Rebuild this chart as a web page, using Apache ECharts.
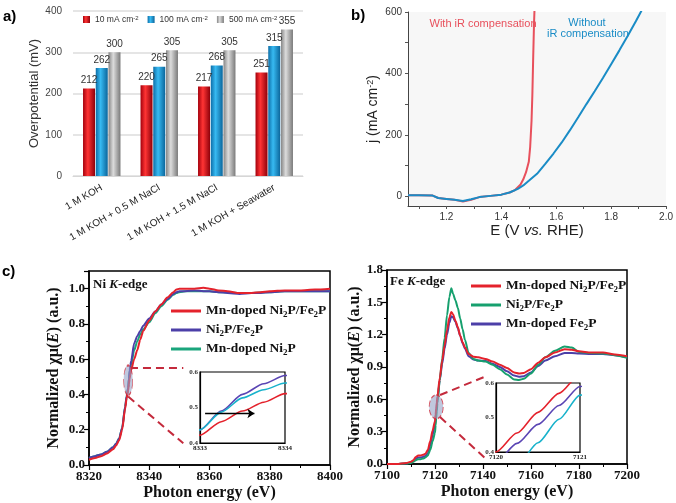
<!DOCTYPE html>
<html><head><meta charset="utf-8">
<script src="https://cdn.jsdelivr.net/npm/echarts@6/dist/echarts.min.js"></script>
<style>html,body{margin:0;padding:0;background:#fff}#c{width:676px;height:503px}</style>
</head><body><div id="c"></div><script>
// ---------- Panel a ----------
const aCategories = ['1 M KOH', '1 M KOH + 0.5 M NaCl', '1 M KOH + 1.5 M NaCl', '1 M KOH + Seawater'];
const a10 = [212, 220, 217, 251];
const a100 = [262, 265, 268, 315];
const a500 = [300, 305, 305, 355];

// ---------- Panel b ----------
const bRedE = [1.06,1.10,1.15,1.17,1.20,1.23,1.26,1.29,1.32,1.36,1.40,1.43,1.45,1.47,1.48,1.49,1.50,1.505,1.51,1.513,1.516,1.519,1.522];
const bRedJ = [3,3,2,-6,-9,-12,-17,-12,-3,1,5,12,20,38,55,78,112,160,245,330,450,560,640];
const bBlueE = [1.06,1.10,1.15,1.17,1.20,1.23,1.26,1.29,1.32,1.36,1.40,1.43,1.46,1.48,1.50,1.53,1.56,1.59,1.62,1.65,1.68,1.71,1.74,1.77,1.80,1.83,1.86,1.89,1.92,1.94];
const bBlueJ = [3,3,2,-6,-9,-12,-16,-10,-3,1,5,12,24,35,50,73,105,139,175,215,257,300,342,385,430,475,522,570,620,655];
const bLabelE = [1.2, 1.4, 1.6, 1.8, 2.0];
const bTickE = [1.1,1.2,1.3,1.4,1.5,1.6,1.7,1.8,1.9,2.0];
const bLabelJ = [0, 200, 400, 600];
const bTickJ = [0, 100, 200, 300, 400, 500, 600];

// ---------- Panel c, Ni K-edge ----------
const niE = [8320,8322,8324,8326,8328,8329,8330,8331,8332,8332.5,8333,8333.25,8333.5,8333.75,8334,8335,8336,8337,8338,8340,8342,8344,8346,8348,8349,8350,8352,8355,8358,8360,8363,8366,8370,8374,8377,8380,8385,8390,8395,8400];
const niRed = [0.03,0.04,0.05,0.065,0.09,0.11,0.14,0.2,0.32,0.38,0.422,0.46,0.49,0.515,0.539,0.6,0.65,0.71,0.76,0.82,0.87,0.91,0.95,0.98,0.995,1.0,1.0,1.0,1.005,1.0,0.99,0.985,0.975,0.975,0.98,0.985,0.99,0.99,0.995,1.0];
const niPurple = [0.04,0.05,0.06,0.075,0.1,0.12,0.15,0.21,0.33,0.39,0.437,0.49,0.537,0.567,0.59,0.69,0.73,0.76,0.79,0.83,0.87,0.91,0.94,0.97,0.98,0.985,0.985,0.99,0.985,0.985,0.98,0.975,0.97,0.975,0.975,0.98,0.985,0.985,0.985,0.985];
const niGreen = [0.04,0.05,0.06,0.075,0.1,0.12,0.15,0.21,0.33,0.39,0.437,0.487,0.527,0.55,0.569,0.65,0.7,0.74,0.77,0.81,0.86,0.9,0.935,0.965,0.975,0.98,0.985,0.985,0.985,0.985,0.98,0.978,0.975,0.975,0.978,0.98,0.985,0.985,0.985,0.985];
const niArrow = [[8333.06, 0.483], [8333.64, 0.483]];
const niLens = [[8333, 0.48]];
const niConnectors = [[[8333.6, 0.553], [8351.3, 0.553]], [[8333.0, 0.388], [8351.3, 0.123]]];

// ---------- Panel c, Fe K-edge ----------
const feE = [7100,7104,7108,7110,7111,7112,7113,7114,7115,7116,7117,7118,7119,7120,7120.25,7120.5,7120.75,7121,7122,7123,7124,7125,7126,7126.8,7127.5,7128.5,7129.5,7130.5,7131.5,7132.5,7134,7136,7138,7141,7144,7147,7150,7153,7155,7157,7160,7163,7166,7170,7174,7177,7180,7185,7190,7195,7200];
const feRed = [0.0,0.0,0.01,0.02,0.035,0.065,0.08,0.08,0.085,0.095,0.13,0.21,0.31,0.40,0.455,0.515,0.57,0.625,0.8,0.96,1.1,1.24,1.36,1.41,1.39,1.33,1.27,1.19,1.13,1.08,1.02,0.995,0.99,0.975,0.95,0.92,0.89,0.85,0.84,0.845,0.88,0.94,0.99,1.035,1.065,1.06,1.045,1.035,1.035,1.015,1.0];
const fePurple = [0.0,0.0,0.005,0.015,0.03,0.05,0.06,0.06,0.065,0.075,0.1,0.17,0.27,0.37,0.425,0.48,0.535,0.59,0.78,0.93,1.07,1.2,1.31,1.37,1.36,1.32,1.26,1.19,1.12,1.07,1.0,0.97,0.96,0.955,0.93,0.9,0.86,0.82,0.81,0.815,0.85,0.91,0.96,1.0,1.03,1.03,1.025,1.02,1.02,1.01,0.99];
const feGreen = [0.0,0.0,0.005,0.01,0.02,0.035,0.045,0.045,0.05,0.06,0.08,0.13,0.21,0.29,0.36,0.427,0.495,0.565,0.78,0.98,1.17,1.38,1.55,1.63,1.58,1.52,1.45,1.35,1.25,1.15,1.03,0.975,0.96,0.95,0.92,0.88,0.83,0.785,0.78,0.79,0.84,0.92,0.99,1.05,1.09,1.08,1.04,1.03,1.025,1.01,0.985];
const feLens = [[7120.5, 0.53]];
const feConnectors = [[[7122.1, 0.64], [7140.8, 0.81]], [[7122.1, 0.436], [7140.8, 0.056]]];

const SANS = 'Liberation Sans, Arial, sans-serif';
const SERIF = 'Liberation Serif, Times New Roman, serif';
const zip = (xs, ys) => xs.map((x, i) => [x, ys[i]]);
const grad = (c0, c1, c2) => new echarts.graphic.LinearGradient(0, 0, 1, 0, [
  {offset: 0, color: c0}, {offset: 0.4, color: c1}, {offset: 1, color: c2}]);

const chart = echarts.init(document.getElementById('c'), null, {renderer: 'canvas'});

const legendLabels = {
  a10: '{t|10 mA cm}{s|-2}', a100: '{t|100 mA cm}{s|-2}', a500: '{t|500 mA cm}{s|-2}',
  c1r: '{t|Mn-doped Ni}{b|2}{t|P/Fe}{b|2}{t|P}', c1p: '{t|Ni}{b|2}{t|P/Fe}{b|2}{t|P}', c1g: '{t|Mn-doped Ni}{b|2}{t|P}',
  c2r: '{t|Mn-doped Ni}{b|2}{t|P/Fe}{b|2}{t|P}', c2g: '{t|Ni}{b|2}{t|P/Fe}{b|2}{t|P}', c2p: '{t|Mn-doped Fe}{b|2}{t|P}'
};
const legFmt = n => legendLabels[n];
const richA = {t: {fontSize: 8.5, fontFamily: SANS, color: '#333'}, s: {fontSize: 6, fontFamily: SANS, color: '#333', verticalAlign: 'top', lineHeight: 6}};
const richC = {t: {fontSize: 13.5, fontWeight: 'bold', fontFamily: SERIF, color: '#111', lineHeight: 16},
  b: {fontSize: 9, fontWeight: 'bold', fontFamily: SERIF, color: '#111', verticalAlign: 'bottom', lineHeight: 9}};

const cAxisX = (gi, min, max) => ({
  gridIndex: gi, type: 'value', min: min, max: max, interval: 20,
  axisLine: {show: true, onZero: false, lineStyle: {color: '#000', width: 1.5}},
  axisTick: {show: true, length: 5, lineStyle: {color: '#000', width: 1.2}},
  minorTick: {show: true, splitNumber: 2, length: 3, lineStyle: {color: '#000', width: 1}},
  splitLine: {show: false},
  axisLabel: {fontSize: 13, fontWeight: 'bold', fontFamily: SERIF, color: '#111', margin: 5, formatter: v => String(v)},
  name: 'Photon energy (eV)', nameLocation: 'middle', nameGap: 20,
  nameTextStyle: {fontSize: 16, fontWeight: 'bold', fontFamily: SERIF, color: '#111'}
});
const cAxisY = (gi, max, interval, gap) => ({
  gridIndex: gi, type: 'value', min: 0, max: max, interval: interval,
  axisLine: {show: true, onZero: false, lineStyle: {color: '#000', width: 1.5}},
  axisTick: {show: true, length: 5, lineStyle: {color: '#000', width: 1.2}},
  minorTick: {show: true, splitNumber: 2, length: 3, lineStyle: {color: '#000', width: 1}},
  splitLine: {show: false},
  axisLabel: {fontSize: 13, fontWeight: 'bold', fontFamily: SERIF, color: '#111', margin: 4,
    formatter: v => (Math.abs(v / interval - Math.round(v / interval)) > 1e-6) ? '' : v.toFixed(1)},
  name: '{n|Normalized χμ(}{i|E}{n|) (a.u.)}', nameLocation: 'middle', nameGap: gap,
  nameTextStyle: {rich: {
    n: {fontSize: 16, fontWeight: 'bold', fontFamily: SERIF, color: '#111'},
    i: {fontSize: 16, fontWeight: 'bold', fontStyle: 'italic', fontFamily: SERIF, color: '#111'}}}
});
const insetX = (gi, min, max) => ({
  gridIndex: gi, type: 'value', min: min, max: max,
  axisLine: {show: true, onZero: false, lineStyle: {color: '#000', width: 1.2}},
  axisTick: {show: false}, splitLine: {show: false},
  axisLabel: {customValues: [min, max], fontSize: 7, fontWeight: 'bold', fontFamily: SERIF, color: '#222', margin: 2, formatter: v => String(v)}
});
const insetY = (gi) => ({
  gridIndex: gi, type: 'value', min: 0.4, max: 0.6, interval: 0.1,
  axisLine: {show: true, onZero: false, lineStyle: {color: '#000', width: 1.2}},
  axisTick: {show: false}, splitLine: {show: false},
  axisLabel: {fontSize: 7, fontWeight: 'bold', fontFamily: SERIF, color: '#333', margin: 2, formatter: v => v.toFixed(1)}
});

const line = (name, xi, xs, ys, color, w, z, smooth) => ({
  name: name, type: 'line', xAxisIndex: xi, yAxisIndex: xi, data: zip(xs, ys),
  symbol: 'none', smooth: smooth === undefined ? 0.25 : smooth, smoothMonotone: 'x', clip: true,
  lineStyle: {color: color, width: w}, itemStyle: {color: color}, z: z || 2
});
const lens = (xi, data, size) => ({
  type: 'scatter', xAxisIndex: xi, yAxisIndex: xi, data: data, symbol: 'circle', symbolSize: size,
  itemStyle: {color: 'rgba(150,163,200,0.75)', borderColor: '#d02a3a', borderWidth: 1.2, borderType: 'dashed'}, z: 6, silent: true
});
const connectors = (xi, pairs) => ({
  type: 'lines', coordinateSystem: 'cartesian2d', xAxisIndex: xi, yAxisIndex: xi,
  data: pairs.map(p => ({coords: p})), symbol: 'none',
  lineStyle: {color: '#c42a3c', width: 2, type: [8, 5], opacity: 1}, z: 5, silent: true
});
const barLabel = {show: true, position: 'top', distance: 3, fontSize: 10, color: '#333', fontFamily: SANS};

const option = {
  animation: false,
  backgroundColor: '#fff',
  grid: [
    {left: 73, top: 11, width: 230, height: 165},
    {left: 408, top: 12, width: 260, height: 194, show: true, backgroundColor: '#f7f7f7', borderWidth: 0},
    {left: 89, top: 271, width: 241, height: 194, show: true, borderColor: '#000', borderWidth: 1.5, backgroundColor: 'transparent'},
    {left: 200, top: 372, width: 85, height: 71, show: true, borderColor: '#000', borderWidth: 1.2, backgroundColor: '#fff'},
    {left: 387, top: 270, width: 240, height: 194, show: true, borderColor: '#000', borderWidth: 1.5, backgroundColor: 'transparent'},
    {left: 496, top: 383, width: 84, height: 69, show: true, borderColor: '#000', borderWidth: 1.2, backgroundColor: '#fff'}
  ],
  legend: [
    {data: ['a10', 'a100', 'a500'], left: 78, top: 10, itemWidth: 7, itemHeight: 7, itemGap: 9, icon: 'rect',
      formatter: legFmt, textStyle: {rich: richA}, selectedMode: false},
    {data: ['c1r', 'c1p', 'c1g'], orient: 'vertical', left: 166, top: 299, itemWidth: 30, itemHeight: 3, itemGap: 4,
      icon: 'rect', formatter: legFmt, textStyle: {rich: richC}, selectedMode: false},
    {data: ['c2r', 'c2g', 'c2p'], orient: 'vertical', left: 466, top: 274, itemWidth: 30, itemHeight: 3, itemGap: 4,
      icon: 'rect', formatter: legFmt, textStyle: {rich: richC}, selectedMode: false}
  ],
  xAxis: [
    {gridIndex: 0, type: 'category', data: aCategories,
      axisLine: {show: true, lineStyle: {color: '#d6d6d6'}}, axisTick: {show: false},
      axisLabel: {rotate: 30, interval: 0, fontSize: 10, color: '#222', fontFamily: SANS, margin: 11}},
    {gridIndex: 1, type: 'value', min: 1.06, max: 2.0,
      axisLine: {show: true, onZero: false, lineStyle: {color: '#444', width: 1}},
      axisTick: {show: true, customValues: bTickE, length: 3, lineStyle: {color: '#555'}},
      axisLabel: {customValues: bLabelE, formatter: v => v.toFixed(1), fontSize: 10, color: '#333', fontFamily: SANS, margin: 6},
      splitLine: {show: false},
      name: 'E (V {i|vs.} RHE)', nameLocation: 'middle', nameGap: 17,
      nameTextStyle: {fontSize: 15, color: '#222', fontFamily: SANS,
        rich: {i: {fontSize: 15, fontStyle: 'italic', color: '#222', fontFamily: SANS}}}},
    cAxisX(2, 8320, 8400),
    insetX(3, 8333, 8334),
    cAxisX(4, 7100, 7200),
    insetX(5, 7120, 7121)
  ],
  yAxis: [
    {gridIndex: 0, type: 'value', min: 0, max: 400, interval: 100,
      axisLine: {show: false}, axisTick: {show: false},
      splitLine: {show: true, lineStyle: {color: '#dcdcdc', width: 1.5}},
      axisLabel: {fontSize: 10, color: '#444', fontFamily: SANS, margin: 11},
      name: 'Overpotential (mV)', nameLocation: 'middle', nameGap: 25,
      nameTextStyle: {fontSize: 13, color: '#333', fontFamily: SANS}},
    {gridIndex: 1, type: 'value', min: -32, max: 600,
      axisLine: {show: true, onZero: false, lineStyle: {color: '#444', width: 1}},
      axisTick: {show: true, customValues: bTickJ, length: 3, lineStyle: {color: '#555'}},
      axisLabel: {customValues: bLabelJ, fontSize: 10, color: '#333', fontFamily: SANS, margin: 6},
      splitLine: {show: false},
      name: 'j (mA cm{s|-2})', nameLocation: 'middle', nameGap: 28,
      nameTextStyle: {fontSize: 14, color: '#222', fontFamily: SANS,
        rich: {s: {fontSize: 9, color: '#222', fontFamily: SANS, verticalAlign: 'top', lineHeight: 8}}}},
    cAxisY(2, 1.1, 0.2, 27),
    insetY(3),
    cAxisY(4, 1.8, 0.3, 22),
    insetY(5)
  ],
  series: [
    {name: 'a10', type: 'bar', xAxisIndex: 0, yAxisIndex: 0, data: a10, barWidth: 12, barGap: '6%',
      itemStyle: {color: grad('#a4000c', '#ff3434', '#8e000a')}, label: barLabel},
    {name: 'a100', type: 'bar', xAxisIndex: 0, yAxisIndex: 0, data: a100, barWidth: 12, barGap: '6%',
      itemStyle: {color: grad('#0c6ea8', '#37baf2', '#0b659b')}, label: barLabel},
    {name: 'a500', type: 'bar', xAxisIndex: 0, yAxisIndex: 0, data: a500, barWidth: 12, barGap: '6%',
      itemStyle: {color: grad('#868686', '#dcdcdc', '#7a7a7a')}, label: barLabel},

    line('bRed', 1, bRedE, bRedJ, '#e8505c', 2, 2, false),
    line('bBlue', 1, bBlueE, bBlueJ, '#1a8cc6', 2, 3, false),

    line('c1g', 2, niE, niGreen, '#1aa57c', 2),
    line('c1p', 2, niE, niPurple, '#4c3fa8', 2),
    line('c1r', 2, niE, niRed, '#e4222c', 2),
    line('c1r_i', 3, niE, niRed, '#e4222c', 1.6, 8),
    line('c1p_i', 3, niE, niPurple, '#5a45b4', 1.6, 8),
    line('c1g_i', 3, niE, niGreen, '#18b2cb', 1.6, 8),
    {type: 'lines', coordinateSystem: 'cartesian2d', xAxisIndex: 3, yAxisIndex: 3,
      data: [{coords: niArrow}], symbol: ['none', 'arrow'], symbolSize: 7,
      lineStyle: {color: '#000', width: 1.4, opacity: 1}, z: 9, silent: true},
    lens(2, niLens, [9, 30]),
    connectors(2, niConnectors),

    line('c2p', 4, feE, fePurple, '#4c3fa8', 2),
    line('c2g', 4, feE, feGreen, '#16a06e', 2),
    line('c2r', 4, feE, feRed, '#e4222c', 2),
    line('c2r_i', 5, feE, feRed, '#e4222c', 1.6, 8),
    line('c2p_i', 5, feE, fePurple, '#5a45b4', 1.6, 8),
    line('c2g_i', 5, feE, feGreen, '#18b2cb', 1.6, 8),
    lens(4, feLens, [14, 24]),
    connectors(4, feConnectors)
  ],
  graphic: [
    {type: 'text', left: 3, top: 9, style: {text: 'a)', font: 'bold 15px ' + SANS, fill: '#000'}},
    {type: 'text', left: 351, top: 8, style: {text: 'b)', font: 'bold 15px ' + SANS, fill: '#000'}},
    {type: 'text', left: 2, top: 264, style: {text: 'c)', font: 'bold 15px ' + SANS, fill: '#000'}},
    {type: 'text', x: 483, y: 24, style: {text: 'With iR compensation', font: '11px ' + SANS, fill: '#e8505c', align: 'center', verticalAlign: 'middle'}},
    {type: 'text', x: 587, y: 23, style: {text: 'Without', font: '11px ' + SANS, fill: '#1a8cc6', align: 'center', verticalAlign: 'middle'}},
    {type: 'text', x: 588, y: 34, style: {text: 'iR compensation', font: '11px ' + SANS, fill: '#1a8cc6', align: 'center', verticalAlign: 'middle'}},
    {type: 'text', x: 93, y: 285, style: {text: '{n|Ni }{i|K}{n|-edge}', verticalAlign: 'middle',
      rich: {n: {font: 'bold 13px ' + SERIF, fill: '#111'}, i: {font: 'italic bold 13px ' + SERIF, fill: '#111'}}}},
    {type: 'text', x: 390, y: 282, style: {text: '{n|Fe }{i|K}{n|-edge}', verticalAlign: 'middle',
      rich: {n: {font: 'bold 13px ' + SERIF, fill: '#111'}, i: {font: 'italic bold 13px ' + SERIF, fill: '#111'}}}}
  ]
};
chart.setOption(option);
</script></body></html>
